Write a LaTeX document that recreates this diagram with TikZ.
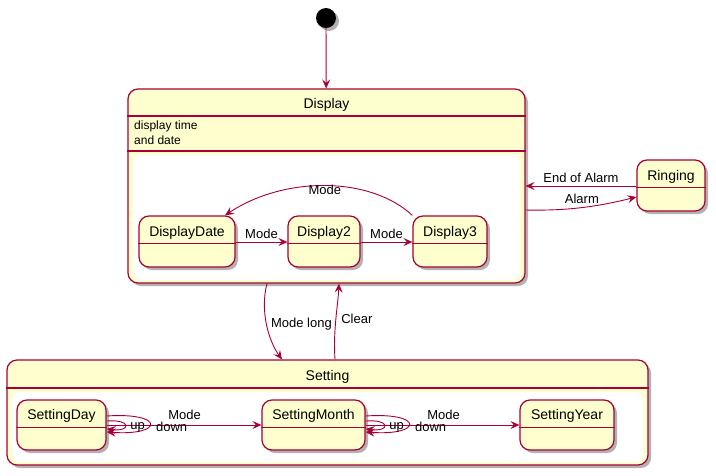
\documentclass[tikz,border=0pt]{standalone}
\usepackage{fontspec}
\setmainfont{Liberation Sans}
\usetikzlibrary{arrows.meta,shadows}

\definecolor{umlred}{HTML}{A80036}
\definecolor{umlfill}{HTML}{FEFECE}

\tikzstyle{statebox}=[draw=umlred, line width=1.2pt, fill=umlfill, rounded corners=10pt,
  drop shadow={shadow xshift=3pt, shadow yshift=-3pt, opacity=0.3, fill=black},
  inner sep=0pt, minimum height=51pt, text height=20pt, text depth=31pt,
  font=\fontsize{14}{16}\selectfont]
\tikzstyle{divider}=[draw=umlred, line width=1.2pt]
\tikzstyle{trans}=[draw=umlred, line width=0.9pt, -{Stealth[length=9pt,width=8pt,inset=3.5pt]}]
\tikzstyle{lbl}=[font=\fontsize{13}{15}\selectfont, inner sep=1pt]

\begin{document}
\begin{tikzpicture}[x=1pt,y=-1pt]
\useasboundingbox (0,0) rectangle (716,475);

% composite states
\node[statebox, minimum width=397pt, text height=19.5pt, text depth=174.5pt] (disp) at (326.5,186) {Display};
\node[statebox, minimum width=641pt, text height=20pt, text depth=85pt] (sett) at (327.5,412.5) {Setting};
\fill[white, rounded corners=8pt] (133,155) rectangle (520,280);
\fill[white, rounded corners=8pt] (12,392) rectangle (643,462);
\draw[divider] (disp.west |- 0,116) -- (disp.east |- 0,116);
\draw[divider] (disp.west |- 0,151) -- (disp.east |- 0,151);
\draw[divider] (sett.west |- 0,388) -- (sett.east |- 0,388);
\node[anchor=west, align=left, inner sep=0pt, font=\fontsize{12}{15}\selectfont] (note) at (134,133) {display time\\and date};

\node[circle, fill=black, minimum size=20pt, inner sep=0pt,
  drop shadow={shadow xshift=3pt, shadow yshift=-3pt, opacity=0.3, fill=black}] (init) at (326,18) {};

% simple states
\node[statebox, minimum width=96pt] (dd) at (187,241.5) {DisplayDate};
\node[statebox, minimum width=72pt] (d2) at (324,241.5) {Display2};
\node[statebox, minimum width=74pt] (d3) at (450,241.5) {Display3};
\node[statebox, minimum width=68pt] (ring) at (671,185.5) {Ringing};
\node[statebox, minimum width=89pt, minimum height=50pt, text height=19pt] (sd) at (61.5,425) {SettingDay};
\node[statebox, minimum width=103pt, minimum height=50pt, text height=19pt] (sm) at (313.5,425) {SettingMonth};
\node[statebox, minimum width=94pt, minimum height=50pt, text height=19pt] (sy) at (567,425) {SettingYear};
\foreach \n in {dd,d2,d3,ring,sd,sm,sy}
  \draw[divider] ([yshift=-28pt]\n.north west) -- ([yshift=-28pt]\n.north east);

% transitions
\draw[trans] (init) -- (disp);
\draw[trans] (dd.east |- 0,242) -- (d2.west |- 0,242) node[lbl, midway, above=2pt] {Mode};
\draw[trans] (d2.east |- 0,242) -- (d3.west |- 0,242) node[lbl, midway, above=2pt] {Mode};
\draw[trans] (d3.north west) .. controls (370,176) and (284,176) .. ([xshift=38pt]dd.north)
  node[lbl, pos=0.5, yshift=-4pt] {Mode};
\draw[trans] (ring.west |- 0,186) -- (disp.east |- 0,186) node[lbl, midway, above=2pt] {End of Alarm};
\draw[trans] (disp.east |- 0,210) .. controls (570,211) and (600,206) .. (ring.west |- 0,197)
  node[lbl, pos=0.48, above=2pt] {Alarm};
\draw[trans] (disp.south -| 267,0) .. controls (260,310) and (268,340) .. (sett.north -| 282,0)
  node[lbl, pos=0.5, anchor=west, xshift=3pt] {Mode long};
\draw[trans] (sett.north -| 335,0) .. controls (333,330) and (338,305) .. (disp.south -| 339,0)
  node[lbl, pos=0.5, anchor=west, xshift=4pt] {Clear};

\foreach \s/\t in {sd/sm, sm/sy} {
  \draw[trans] (\s.east) -- (\t.west);
  \node[lbl] (\s-mode) at ([xshift=78pt, yshift=10pt]\s.east) {Mode};
  \draw[trans] ([yshift=9pt]\s.east) .. controls +(58,-4) and +(58,4) .. ([yshift=-7pt]\s.east);
  \draw[trans] ([yshift=4pt]\s.east) .. controls +(25,-2) and +(25,3) .. ([yshift=-4pt]\s.east);
  \node[lbl] (\s-up) at ([xshift=31pt, yshift=-2pt]\s.east) {up};
  \node[lbl] (\s-down) at ([xshift=65pt, yshift=-2pt]\s.east) {down};
}
\end{tikzpicture}
\end{document}
